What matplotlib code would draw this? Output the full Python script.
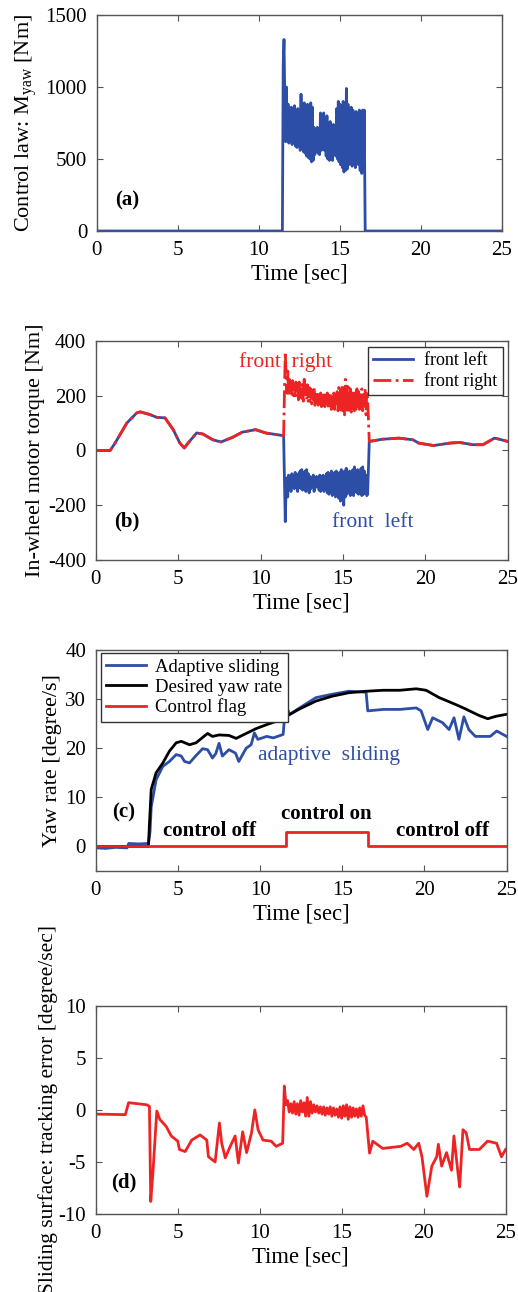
import numpy as np
import matplotlib
matplotlib.use("Agg")
from matplotlib import pyplot as plt

plt.rcParams['font.family'] = ['Liberation Serif', 'DejaVu Serif']
plt.rcParams['mathtext.fontset'] = 'custom'
plt.rcParams['mathtext.rm'] = 'Liberation Serif'
plt.rcParams['axes.unicode_minus'] = False

BLUE = '#2d4ea6'
RED = '#ee2424'

# time grids of the control-on window (11.5 .. 16.5 s)
ctrl_t = list(np.linspace(11.5, 16.5, 51))
ctrl_t_fine = list(np.linspace(11.5, 16.5, 101))

# (a) control law M_yaw [Nm]
a_ctrl = [1150, 1330, 900, 620, 1000, 640, 880, 610, 760, 620,
          860, 600, 840, 640, 870, 590, 800, 580, 850, 600,
          820, 560, 950, 580, 860, 550, 890, 540, 840, 520,
          880, 510, 830, 500, 890, 480, 860, 490, 720, 530,
          700, 560, 720, 540, 690, 530, 820, 560, 780, 570,
          820, 560, 760, 520, 800, 500, 740, 490, 760, 510,
          720, 490, 740, 540, 700, 520, 850, 500, 900, 480,
          880, 460, 860, 440, 900, 410, 880, 420, 990, 430,
          880, 460, 850, 470, 860, 450, 840, 480, 820, 440,
          830, 500, 800, 460, 840, 420, 830, 400, 840, 430,
          840]
a_t = [0, 11.45] + ctrl_t_fine + [16.56, 25]
a_v = [0, 0] + a_ctrl + [0, 0]

# (b) in-wheel motor torque [Nm]
b_pre_t = [0, 0.87, 1.17, 1.88, 2.48, 2.69, 3.29, 3.7, 4.2, 4.7, 5.1, 5.37, 5.6,
           6.12, 6.5, 7.1, 7.6, 8.3, 8.9, 9.7, 10.3, 11.4]
b_pre_v = [0, 0, 27, 100, 137, 141, 131, 121, 119, 76, 27, 9, 27,
           64, 60, 39, 31, 48, 67, 76, 64, 54]
b_post_t = [16.6, 17.4, 18.4, 19.25, 19.6, 20.5, 21.5, 22.1, 22.9, 23.5, 24.2, 24.5, 25]
b_post_v = [33, 41, 45, 39, 27, 18, 27, 29, 21, 21, 45, 41, 33]
left_ctrl = [-260, -140, -100, -170, -90, -140, -95, -150, -85, -130,
             -95, -140, -80, -130, -90, -150, -85, -135, -75, -140,
             -70, -145, -80, -130, -75, -150, -70, -140, -85, -155,
             -95, -140, -100, -125, -90, -150, -100, -135, -95, -130,
             -100, -145, -90, -150, -95, -135, -90, -150, -100, -140,
             -85, -155, -80, -160, -90, -150, -75, -165, -85, -145,
             -80, -170, -75, -165, -90, -175, -80, -185, -70, -160,
             -90, -200, -75, -170, -65, -160, -80, -150, -75, -165,
             -80, -155, -70, -165, -60, -150, -75, -155, -70, -160,
             -80, -150, -65, -165, -60, -160, -75, -155, -90, -165,
             -160]
right_ctrl = [360, 280, 210, 290, 200, 260, 215, 250, 195, 255,
              200, 245, 190, 250, 205, 240, 185, 250, 200, 235,
              190, 250, 180, 260, 195, 235, 185, 240, 175, 230,
              180, 225, 170, 220, 185, 230, 165, 210, 175, 215,
              165, 200, 175, 210, 160, 205, 170, 215, 160, 200,
              170, 210, 155, 200, 165, 205, 150, 195, 160, 210,
              150, 200, 165, 215, 145, 230, 150, 220, 140, 240,
              145, 235, 130, 260, 140, 245, 135, 230, 150, 225,
              140, 215, 155, 220, 145, 210, 150, 225, 160, 215,
              150, 210, 160, 225, 145, 205, 165, 220, 130, 215,
              190]
b_t = b_pre_t + ctrl_t_fine + b_post_t
b_left = b_pre_v + left_ctrl + b_post_v
b_right = b_pre_v + right_ctrl + b_post_v

# (c) yaw rate [degree/s]
des_t = [0, 3.2, 3.27, 3.37, 3.67, 4.08, 4.48, 4.89, 5.2, 5.7, 6.1, 6.8, 7.1, 7.5,
         8.1, 8.54, 9.15, 9.76, 10.4, 11.0, 11.6, 12.4, 13.4, 14.4, 15.4, 16.45,
         17.5, 18.5, 19.5, 20.1, 20.9, 21.9, 22.5, 23.3, 23.85, 24.35, 25]
des_v = [0, 0, 5, 11.6, 15, 17, 19.4, 21.1, 21.4, 20.7, 21.1, 23, 22.4, 22.7,
         22.6, 22, 23, 24, 24.8, 25.5, 26.5, 28, 29.6, 30.6, 31.3, 31.6,
         31.8, 31.8, 32.1, 31.8, 30.3, 28.9, 28, 26.7, 26, 26.5, 26.9]
ada_t = [0, 0.6, 1.2, 1.9, 2.0, 2.6, 3.2, 3.3, 3.37, 3.67, 4.08, 4.48, 4.89, 5.2,
         5.4, 5.7, 6.1, 6.5, 6.8, 7.1, 7.3, 7.5, 7.7, 8.1, 8.5, 8.7, 9.15, 9.45,
         9.65, 9.86, 10.4, 10.8, 11.4, 11.55, 11.8, 12.4, 13.4, 14.4, 15.4, 16.45,
         16.55, 17.5, 18.5, 19.5, 19.8, 20.2, 20.5, 21.1, 21.5, 21.8, 22.1, 22.4,
         22.7, 23.1, 24.0, 24.4, 25]
ada_v = [-0.3, -0.4, -0.2, -0.3, 0.6, 0.5, 0.6, 3, 8, 13.6, 16.3, 17.3, 18.7, 18.4,
         17.3, 17, 18.5, 19.9, 19.7, 18, 18.9, 21, 18.4, 19.7, 19, 17.3, 20, 20.7,
         23.1, 21.8, 22.4, 22.1, 22.8, 28.9, 26.9, 28.2, 30.3, 31, 31.6, 31.4,
         27.6, 27.9, 27.9, 28.2, 27.6, 23.8, 26.2, 25.2, 23.8, 26.2, 21.8, 26.4,
         23.8, 22.4, 22.4, 23.5, 22.4]
flag_t = [0, 11.55, 11.55, 16.55, 16.55, 25]
flag_v = [0, 0, 3, 3, 0, 0]

# (d) sliding surface: tracking error [degree/sec]
d_pre_t = [0, 1.8, 2.0, 3.1, 3.27, 3.35, 3.48, 3.72, 3.9, 4.3, 4.6, 5.0, 5.1, 5.45,
           5.85, 6.36, 6.77, 6.87, 7.28, 7.54, 7.68, 7.9, 8.2, 8.5, 8.7, 8.96, 9.2,
           9.5, 9.7, 9.9, 10.2, 10.7, 11.0, 11.4]
d_pre_v = [-0.4, -0.45, 0.7, 0.5, 0.35, -8.8, -6.1, -0.1, -0.9, -1.6, -2.5, -3.0, -3.8, -4.0,
           -2.9, -2.4, -2.9, -4.5, -5.0, -1.25, -3.2, -4.6, -3.5, -2.5, -5.1, -2.1, -4.1,
           -2.2, 0, -1.9, -2.9, -3.0, -3.5, -3.2]
d_ctrl = [2.3, 0.5, 0.9, -0.2, 0.6, -0.3, 0.8, -0.4, 0.6, -0.5,
          0.9, -0.2, 0.7, -0.6, 1.2, -0.6, 0.8, -0.3, 0.5, -0.2,
          0.4, -0.3, 0.3, -0.4, 0.3, -0.5, 0.2, -0.4, 0.3, -0.6,
          0.2, -0.5, 0.1, -0.7, 0.3, -0.8, 0.4, -0.6, 0.5, -0.9,
          0.3, -0.7, 0.2, -0.6, 0.1, -0.7, 0.2, -0.6, 0.4, -0.5,
          -0.7]
d_post_t = [16.7, 16.9, 17.5, 18.6, 19.0, 19.4, 19.7, 19.9, 20.2, 20.5, 20.8, 20.9,
            21.1, 21.4, 21.7, 21.85, 22.1, 22.2, 22.4, 22.6, 22.8, 23.4, 23.9, 24.45,
            24.75, 25]
d_post_v = [-4.15, -3.0, -3.7, -3.5, -3.2, -3.8, -3.2, -4.5, -8.3, -5.4, -4.5, -3.3,
            -5.4, -4.1, -5.8, -2.5, -6.1, -7.4, -1.9, -2.2, -3.8, -3.8, -3.0, -3.2,
            -4.5, -3.8]
d_t = d_pre_t + ctrl_t + d_post_t
d_v = d_pre_v + d_ctrl + d_post_v

time_ticks = [0, 5, 10, 15, 20, 25]

fig = plt.figure(figsize=(5.18, 12.92), dpi=100)
ax_a = fig.add_axes([0.187, 0.8212, 0.782, 0.1672])
ax_b = fig.add_axes([0.185, 0.5666, 0.795, 0.1695])
ax_c = fig.add_axes([0.185, 0.3259, 0.793, 0.171])
ax_d = fig.add_axes([0.185, 0.0604, 0.791, 0.161])


def style(ax):
    ax.set_xlim(0, 25)
    ax.set_xticks(time_ticks)
    ax.tick_params(direction='in', length=4, width=0.8, pad=7, labelsize=15,
                   top=True, right=True, color='#555555')
    for s in ax.spines.values():
        s.set_color('#555555')
        s.set_linewidth(1.0)
    ax.set_xlabel('Time [sec]', fontsize=16.3, labelpad=3)


# (a)
ax_a.plot(a_t, a_v, color=BLUE, lw=2)
style(ax_a)
ax_a.set_ylim(0, 1500)
ax_a.set_yticks([0, 500, 1000, 1500])
ax_a.set_ylabel('Control law: M$_{\\rm yaw}$ [Nm]', fontsize=16)
ax_a.yaxis.set_label_coords(-0.14, 0.5)
ax_a.text(1.85, 213, '(a)', fontsize=15, fontweight='bold', ha='center', va='center')

# (b)
ax_b.plot(b_t, b_left, color=BLUE, lw=2, label='front left')
ax_b.plot(b_t, b_right, color=RED, lw=2, ls='-.', label='front right')
style(ax_b)
ax_b.set_ylim(-400, 400)
ax_b.set_yticks([-400, -200, 0, 200, 400])
ax_b.set_ylabel('In-wheel motor torque [Nm]', fontsize=16)
ax_b.yaxis.set_label_coords(-0.124, 0.5)
ax_b.legend(loc='upper right', bbox_to_anchor=(0.988, 0.973), fontsize=13,
            fancybox=False, edgecolor='#333333', framealpha=1, handlelength=2.2,
            handletextpad=0.6, borderaxespad=0, labelspacing=0.15, borderpad=0.3)
ax_b.text(11.5, 322, 'front  right', color=RED, fontsize=15.5, ha='center', va='center')
ax_b.text(16.8, -262, 'front  left', color=BLUE, fontsize=15.5, ha='center', va='center')
ax_b.text(1.9, -260, '(b)', fontsize=15, fontweight='bold', ha='center', va='center')

# (c)
ax_c.plot(ada_t, ada_v, color=BLUE, lw=2, label='Adaptive sliding')
ax_c.plot(des_t, des_v, color='black', lw=2, label='Desired yaw rate')
ax_c.plot(flag_t, flag_v, color=RED, lw=2, label='Control flag')
style(ax_c)
ax_c.set_ylim(-5, 40)
ax_c.set_yticks([0, 10, 20, 30, 40])
ax_c.set_ylabel('Yaw rate [degree/s]', fontsize=16)
ax_c.yaxis.set_label_coords(-0.083, 0.5)
ax_c.legend(loc='upper left', bbox_to_anchor=(0.012, 0.986), fontsize=13.5,
            fancybox=False, edgecolor='#333333', framealpha=1, handlelength=2.1,
            handletextpad=0.5, borderaxespad=0, labelspacing=0.15, borderpad=0.3)
ax_c.text(14.2, 18.5, 'adaptive  sliding', color=BLUE, fontsize=15.5, ha='center', va='center')
ax_c.text(1.7, 6.9, '(c)', fontsize=15, fontweight='bold', ha='center', va='center')
ax_c.text(6.9, 3.1, 'control off', fontsize=15, fontweight='bold', ha='center', va='center')
ax_c.text(14.0, 6.5, 'control on', fontsize=15, fontweight='bold', ha='center', va='center')
ax_c.text(21.1, 3.1, 'control off', fontsize=15, fontweight='bold', ha='center', va='center')

# (d)
ax_d.plot(d_t, d_v, color=RED, lw=2)
style(ax_d)
ax_d.set_ylim(-10, 10)
ax_d.set_yticks([-10, -5, 0, 5, 10])
ax_d.set_ylabel('Sliding surface: tracking error [degree/sec]', fontsize=15.5)
ax_d.yaxis.set_label_coords(-0.092, 0.5)
ax_d.text(1.7, -7.0, '(d)', fontsize=15, fontweight='bold', ha='center', va='center')

fig.savefig('out.png', dpi=100)
